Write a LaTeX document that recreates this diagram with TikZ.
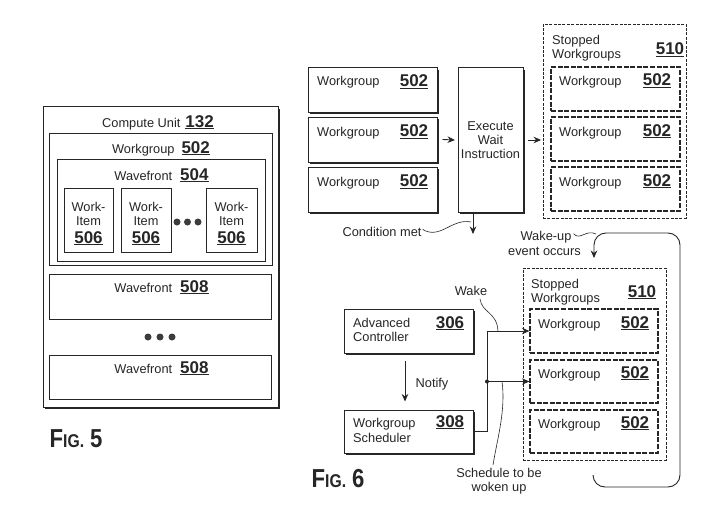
\documentclass[tikz,border=0pt]{standalone}
\usepackage{fontspec}
\setmainfont{Liberation Sans}
\usetikzlibrary{arrows.meta,shadows}
\definecolor{ink}{gray}{0.15}
\newcommand\UNum[1]{\vtop{\hbox{\fontsize{17}{18}\selectfont\bfseries #1}\kern1.2pt\hrule height 1.1pt}}
\newcommand\FigLab[1]{\scalebox{0.85}[1]{\bfseries\fontsize{26}{26}\selectfont F\fontsize{18.5}{20}\selectfont IG.\hspace{7pt}\fontsize{26}{26}\selectfont #1}}
\tikzset{
  lbl/.style={font=\fontsize{12.8}{14}\selectfont, inner sep=0pt, anchor=base, text=ink},
  lblw/.style={lbl, anchor=base west},
  pbox/.style={draw=ink, line width=0.9pt, inner sep=0pt},
  sbox/.style={draw=ink, fill=white, line width=1pt, inner sep=0pt,
    drop shadow={shadow xshift=1.7pt, shadow yshift=-1.7pt, fill=ink, opacity=1}},
  dbox/.style={draw=ink, line width=1.2pt, dash pattern=on 5pt off 1.6pt, inner sep=0pt},
  obox/.style={draw=ink, line width=0.9pt, dash pattern=on 3pt off 1.4pt, inner sep=0pt},
  arr/.style={draw=ink, line width=0.9pt, -{Stealth[length=7.5pt,width=6.5pt]}},
  ptr/.style={draw=ink, line width=0.6pt},
  dotmark/.style={circle, fill=ink!90, inner sep=0pt, minimum size=7pt},
}
\begin{document}
\begin{tikzpicture}[x=1pt,y=-1pt]
\useasboundingbox (0,0) rectangle (710,527);
\fill[white] (0,0) rectangle (710,527);

% ---------------- FIG. 5 ----------------
\node[sbox, drop shadow={shadow xshift=1.3pt, shadow yshift=-1.3pt, fill=ink, opacity=1}, minimum width=235pt, minimum height=300pt] (cu) at (160.5,257) {};
\node[pbox, minimum width=223pt, minimum height=132pt] (wg) at (160.5,199) {};
\node[pbox, minimum width=208pt, minimum height=102pt] (wf) at (161,210) {};
\node[pbox, minimum width=49pt, minimum height=64pt] (wi1) at (88.5,220) {};
\node[pbox, minimum width=50pt, minimum height=64pt] (wi2) at (146,220) {};
\node[pbox, minimum width=51pt, minimum height=64pt] (wi3) at (231.5,220) {};
\node[pbox, minimum width=222pt, minimum height=45pt] (wfa) at (160,296.5) {};
\node[pbox, minimum width=222pt, minimum height=44pt] (wfb) at (160,377) {};

\node[lbl] (tcu) at (158,127) {Compute Unit\hspace{5pt}\UNum{132}};
\node[lbl] (twg) at (161,153) {Workgroup\hspace{7pt}\UNum{502}};
\node[lbl] (twf) at (161.5,180) {Wavefront\hspace{8pt}\UNum{504}};
\foreach \n/\x in {1/88.5,2/146,3/231.5}{
  \node[lbl] (wa\n) at (\x,211) {Work-};
  \node[lbl] (wb\n) at (\x,225) {Item};
  \node[lbl] (wc\n) at (\x,243) {\UNum{506}};
}
\node[dotmark] (d1) at (177,222) {};
\node[dotmark] (d2) at (187.5,222) {};
\node[dotmark] (d3) at (198,222) {};
\node[lbl] (twfa) at (161.5,292) {Wavefront\hspace{8pt}\UNum{508}};
\node[dotmark] (e1) at (148,337) {};
\node[dotmark] (e2) at (160,337) {};
\node[dotmark] (e3) at (172,337) {};
\node[lbl] (twfb) at (161.5,373) {Wavefront\hspace{8pt}\UNum{508}};
\node[inner sep=0pt, anchor=base, text=ink] (fig5) at (76,447) {\FigLab{5}};

% ---------------- FIG. 6 upper ----------------
\node[sbox, minimum width=129pt, minimum height=44pt] (wgA1) at (372.5,90) {};
\node[sbox, minimum width=129pt, minimum height=45pt] (wgA2) at (372.5,139.5) {};
\node[sbox, minimum width=129pt, minimum height=45pt] (wgA3) at (372.5,189.5) {};
\foreach \n/\y in {1/86,2/136,3/186}{
  \node[lblw] (wgAt\n) at (317,\y) {Workgroup};
  \node[lbl] (wgAn\n) at (414,\y+0.5) {\UNum{502}};
}
\node[sbox, minimum width=65pt, minimum height=144pt] (exec) at (490.5,140) {};
\node[lbl] (ex1) at (490.5,130) {Execute};
\node[lbl] (ex2) at (490.5,144) {Wait};
\node[lbl] (ex3) at (490.5,158) {Instruction};

\node[obox, minimum width=143pt, minimum height=194pt] (stopA) at (614.5,121) {};
\node[lblw] (stA1) at (552,45) {Stopped};
\node[lblw] (stA2) at (552,59) {Workgroups};
\node[lbl] (stAn) at (670,55) {\UNum{510}};
\node[dbox, minimum width=129pt, minimum height=44pt] (swA1) at (615.5,89) {};
\node[dbox, minimum width=129pt, minimum height=44pt] (swA2) at (615.5,139) {};
\node[dbox, minimum width=129pt, minimum height=44pt] (swA3) at (615.5,189) {};
\foreach \n/\y in {1/86,2/136,3/186}{
  \node[lblw] (swAt\n) at (559,\y) {Workgroup};
  \node[lbl] (swAn\n) at (657,\y) {\UNum{502}};
}
\draw[arr] ([xshift=5pt]wgA2.east) -- ([xshift=-2.5pt]exec.west);
\draw[arr] ([xshift=4pt]exec.east) -- ([xshift=-1.5pt]stopA.west |- exec.east);

\node[lbl] (cond) at (382,236) {Condition met};
\coordinate (condA) at ([xshift=-17.5pt]exec.south);
\coordinate (condB) at (473,234);
\draw[arr] (condA) -- (condB);
\draw[ptr] (cond.east) ++(1,-2) .. controls (440,240) and (452,218) .. (471,222);

% ---------------- FIG. 6 lower ----------------
\node[lbl] (wku1) at (546,240) {Wake-up};
\node[lbl] (wku2) at (544.5,255) {event occurs};
\draw[ptr] (wku1.east) ++(2,-3) .. controls (580,241) and (586,229) .. (596,234);
\coordinate (lpS) at (593,475);
\coordinate (lpR) at (680,487);
\coordinate (lpT) at (594,233);
\coordinate (lpE) at (594,258);
\draw[arr, rounded corners=12pt] (lpS) |- (lpR) |- (lpT) -- (lpE);

\node[obox, minimum width=143pt, minimum height=192pt] (stopB) at (594.5,364) {};
\node[lblw] (stB1) at (531,288) {Stopped};
\node[lblw] (stB2) at (531,302) {Workgroups};
\node[lbl] (stBn) at (642,297) {\UNum{510}};
\node[dbox, minimum width=128pt, minimum height=44pt] (swB1) at (594,331) {};
\node[dbox, minimum width=128pt, minimum height=43pt] (swB2) at (594,381.5) {};
\node[dbox, minimum width=128pt, minimum height=43pt] (swB3) at (594,431.5) {};
\foreach \n/\y in {1/328,2/378,3/428}{
  \node[lblw] (swBt\n) at (538,\y) {Workgroup};
  \node[lbl] (swBn\n) at (635,\y) {\UNum{502}};
}

\node[sbox, minimum width=129pt, minimum height=44pt] (adv) at (408.5,331) {};
\node[lblw] (adv1) at (353,327) {Advanced};
\node[lblw] (adv2) at (353,341.5) {Controller};
\node[lbl] (advn) at (450,328) {\UNum{306}};
\node[sbox, minimum width=129pt, minimum height=43pt] (sched) at (408.5,431.5) {};
\node[lblw] (sch1) at (353,427) {Workgroup};
\node[lblw] (sch2) at (353,442) {Scheduler};
\node[lbl] (schn) at (450,427) {\UNum{308}};

\draw[arr] ([xshift=-3.5pt,yshift=-7pt]adv.south) -- ([xshift=-3.5pt,yshift=8pt]sched.north);
\node[lbl] (notify) at (432,387) {Notify};

\coordinate (j1) at (487,331);
\coordinate (j2) at (487,381.5);
\draw[draw=ink, line width=0.9pt] (sched.east) -| (j1);
\draw[arr] (j1) -- (swB1.west);
\draw[arr] (j2) -- (swB2.west);
\fill[ink] (j2) circle (2pt);

\node[lbl] (wake) at (471,295) {Wake};
\draw[ptr] (480,299) .. controls (482,313) and (497,312) .. (498,331);
\node[lbl] (sch3) at (499,477) {Schedule to be};
\node[lbl] (sch4) at (499,491) {woken up};
\draw[ptr] (493,465) .. controls (497,440) and (506,410) .. (502,381.5);

\node[inner sep=0pt, anchor=base, text=ink] (fig6) at (338,487) {\FigLab{6}};
\end{tikzpicture}
\end{document}
